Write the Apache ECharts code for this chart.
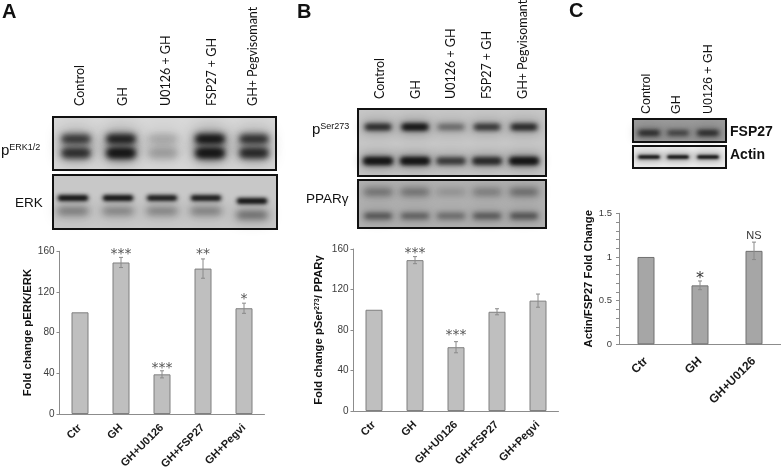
<!DOCTYPE html>
<html><head><meta charset="utf-8">
<style>html,body{margin:0;padding:0;background:#fff}#c{width:781px;height:467px}</style>
<script src="https://cdn.jsdelivr.net/npm/echarts@6/dist/echarts.min.js"></script>
</head><body><div id="c"></div>
<script>
// Chart data
var catsAB = ['Ctr','GH','GH+U0126','GH+FSP27','GH+Pegvi'];
var catsC = ['Ctr','GH','GH+U0126'];
var valuesA = [100,149,39,143,104];
var errorsA = [0,5,3.5,9.5,5];
var starsA = ['','***','***','**','*'];
var starYA = [0,157,45,157,113];
var valuesB = [100,149,63,98,109];
var errorsB = [0,3.5,5.5,3,6.5];
var starsB = ['','***','***','',''];
var starYB = [0,156,74.4,0,0];
var valuesC = [1,0.675,1.07];
var errorsC = [0,0.05,0.10];
var starsC = ['','*','NS'];
var starYC = [0,0.75,1.24];
var lanesABlotLabels = ['Control','GH','U0126 + GH','FSP27 + GH','GH+ Pegvisomant'];
var lanesCBlotLabels = ['Control','GH','U0126 + GH'];
// Blot band darkness by lane (0..1)
var perkUpper = [0.6,0.8,0.2,0.9,0.65];
var perkLower = [0.65,0.9,0.25,0.9,0.7];
var erkMain = [1,1,0.9,0.92,1];
var erkLow = [0.45,0.4,0.4,0.42,0.55];
var serUpper = [0.75,1,0.5,0.65,0.78];
var serLower = [1,1,0.6,0.75,1];
var pparUpper = [0.45,0.45,0.2,0.36,0.5];
var pparLower = [0.58,0.5,0.42,0.55,0.6];
var fspBand = [0.85,0.6,0.85];
var actinBand = [1,1,1];

var AXIS='#8c8c8c', TXT='#3c3c3c', SANS='"Liberation Sans",Arial,sans-serif';
var gr=[];
function rect(x,y,w,h,fill,z){gr.push({type:'rect',z:z||1,silent:true,shape:{x:x,y:y,width:w,height:h},style:{fill:fill}});}
function blurBand(cx,cy,w,h,alpha,blur){
  // a rectangle parked off-canvas casts only its soft shadow onto the blot
  gr.push({type:'rect',z:3,silent:true,shape:{x:cx-w/2-2000,y:cy-h/2,width:w,height:h,r:h/2},
    style:{fill:'#000',shadowColor:'rgba(15,15,15,'+alpha+')',shadowBlur:blur,shadowOffsetX:2000}});
}
function blot(box,bg,lanes,rows){
  rect(box[0],box[1],box[2]-box[0],box[3]-box[1],bg,2);
  rows.forEach(function(r){
    lanes.forEach(function(cx,i){
      var a=r.vals[i], y=r.y+(r.dy?r.dy[i]:0);
      if(r.haze)blurBand(cx,y,r.w+6,r.h+r.haze,a*0.3,r.blur*2.2);
      blurBand(cx,y,r.w,r.h,Math.min(1,a),r.blur);
      if(r.core&&a>0.5)blurBand(cx,y,r.w*0.9,r.h*0.7,a*0.85,r.blur*0.8);
    });
  });
  gr.push({type:'rect',z:5,silent:true,shape:{x:box[0],y:box[1],width:box[2]-box[0],height:box[3]-box[1]},
    style:{fill:'none',stroke:'#111',lineWidth:2}});
}
function vtext(x,y,t,font,size,color){
  gr.push({type:'text',z:6,silent:true,x:x,y:y,rotation:Math.PI/2,
    style:{x:0,y:0,text:t,font:size+'px '+font,fill:color||'#111',align:'left',verticalAlign:'middle'}});
}
function text(x,y,t,font,fill,rich){
  var s={x:0,y:0,text:t,font:font,fill:fill||'#111',align:'left',verticalAlign:'middle'};
  if(rich)s.rich=rich;
  gr.push({type:'text',z:6,silent:true,x:x,y:y,style:s});
}
// Panel A blots
blot([53,117,276,170],'#d8d8d8',[76,121,163,210,254],[
 {y:139,w:30,h:9,blur:7,vals:perkUpper,core:1,haze:14},{y:153,w:30,h:11,blur:7,vals:perkLower,core:1,haze:10}]);
blot([53,175,277,229],'#c8c8c8',[73,118,162,206,252],[
 {y:198,w:31,h:5,blur:4,vals:erkMain,core:1,dy:[0,0,0,0,3]},{y:211,w:31,h:7,blur:7,vals:erkLow,dy:[0,0,0,0,4],haze:6}]);
// Panel B blots
blot([358,109,546,176],'#c6c6c6',[378,415,451,487,524],[
 {y:127,w:27,h:6,blur:5,vals:serUpper,core:1,haze:8},{y:161,w:30,h:7,blur:5,vals:serLower,core:1,haze:8}]);
blot([358,180,546,228],'#b2b2b2',[378,415,451,487,524],[
 {y:192,w:28,h:6,blur:6,vals:pparUpper,haze:6},{y:216,w:28,h:6,blur:5,vals:pparLower,haze:6}]);
// Panel C blots
blot([633,119,726,142],'#9c9c9c',[649,678,708],[{y:133,w:22,h:4,blur:5,vals:fspBand,core:1,haze:8}]);
blot([633,146,726,168],'#ececec',[649,678,708],[{y:157,w:22,h:3,blur:3,vals:actinBand,core:1,haze:6}]);

// Lane labels
[80,123,166,212,253].forEach(function(x,i){vtext(x,106,lanesABlotLabels[i],'Lato,sans-serif',12.5);});
[380,416,451,487,523].forEach(function(x,i){vtext(x,99,lanesABlotLabels[i],'Lato,sans-serif',12.5);});
[647,677,709].forEach(function(x,i){vtext(x,114,lanesCBlotLabels[i],SANS,12.5);});
// Panel letters and blot names
text(2,12,'A','bold 20px '+SANS);
text(297,12,'B','bold 20px '+SANS);
text(569,11,'C','bold 20px '+SANS);
var supRich={a:{fontFamily:'Liberation Sans',fontSize:15,fill:'#111'},b:{fontFamily:'Liberation Sans',fontSize:9,fill:'#111',verticalAlign:'top',padding:[0,0,6,0]}};
text(1,151,'{a|p}{b|ERK1/2}','15px '+SANS,'#111',supRich);
text(312,130,'{a|p}{b|Ser273}','15px '+SANS,'#111',supRich);
text(15,203,'ERK','13.5px '+SANS);
text(306,199,'PPARγ','13.5px '+SANS);
text(730,132,'FSP27','bold 14px '+SANS);
text(730,155,'Actin','bold 14px '+SANS);

function grid(l,t,w,h){return {left:l,top:t,width:w,height:h,containLabel:false,outerBoundsMode:'none'};}
function xAxis(i,cats,size,margin){return {type:'category',gridIndex:i,data:cats,
  axisLine:{show:true,lineStyle:{color:AXIS,width:1}},axisTick:{show:false},
  axisLabel:{rotate:45,interval:0,margin:margin,color:'#1a1a1a',fontWeight:'bold',fontFamily:SANS,fontSize:size},
  splitLine:{show:false}};}
function yAxis(i,max,interval,name,gap,labelSize,labelMargin,minor,rich){var o={type:'value',gridIndex:i,min:0,max:max,interval:interval,
  name:name,nameLocation:'middle',nameGap:gap,nameRotate:90,nameMoveOverlap:false,
  nameTextStyle:{color:'#111',fontWeight:'bold',fontFamily:SANS,fontSize:11.3,rich:rich||{}},
  axisLine:{show:true,lineStyle:{color:AXIS}},axisTick:{show:true,length:3,lineStyle:{color:AXIS}},
  axisLabel:{color:TXT,fontFamily:SANS,fontSize:labelSize,margin:labelMargin},
  splitLine:{show:false}};
  if(minor)o.minorTick={show:true,splitNumber:5,length:3,lineStyle:{color:AXIS}};
  return o;}
function bar(i,vals,fill,border){return {type:'bar',xAxisIndex:i,yAxisIndex:i,data:vals,barWidth:17,
  itemStyle:{color:fill,borderColor:border,borderWidth:1},silent:true,animation:false};}
function errs(i,vals,er){return {type:'custom',xAxisIndex:i,yAxisIndex:i,z:4,silent:true,animation:false,
  data:vals.map(function(v,k){return [k,v,er[k]];}),
  renderItem:function(p,api){
    var k=api.value(0),v=api.value(1),e=api.value(2);
    if(!e)return null;
    var a=api.coord([k,v+e]),b=api.coord([k,v-e]),st={stroke:'#8a8a8a',lineWidth:1};
    return {type:'group',children:[
      {type:'line',shape:{x1:a[0],y1:a[1],x2:b[0],y2:b[1]},style:st},
      {type:'line',shape:{x1:a[0]-2,y1:a[1],x2:a[0]+2,y2:a[1]},style:st},
      {type:'line',shape:{x1:b[0]-2,y1:b[1],x2:b[0]+2,y2:b[1]},style:st}]};
  }};}
function marks(i,labels,ys){return {type:'custom',xAxisIndex:i,yAxisIndex:i,z:5,silent:true,animation:false,
  data:labels.map(function(s,k){return [k,ys[k],s];}),
  renderItem:function(p,api){
    var s=labels[p.dataIndex];
    if(!s)return null;
    var c=api.coord([api.value(0),api.value(1)]);
    var ns=s==='NS', big=i===2;
    return {type:'text',x:c[0],y:c[1],style:{text:s,fill:ns?'#333':(big?'#333':'#555'),
      font:(ns?'11px "Liberation Sans"':(big?'16px':'14px')+' "DejaVu Sans"'),align:'center',verticalAlign:'middle'}};
  }};}
var chart=echarts.init(document.getElementById('c'),null,{renderer:'canvas'});
chart.setOption({animation:false,backgroundColor:'#fff',graphic:gr,
  grid:[grid(59.5,251.3,205,162.7),grid(353.5,249,205,162),grid(619,213.3,162,131)],
  xAxis:[xAxis(0,catsAB,11,12),xAxis(1,catsAB,11,12),xAxis(2,catsC,12,15)],
  yAxis:[
    yAxis(0,160,40,'Fold change pERK/ERK',26,10,5),
    yAxis(1,160,40,'{m|Fold change pSer}{s|273}{m|/ PPARγ}',29,10,5,false,
      {m:{fontWeight:'bold',fontFamily:'Liberation Sans',fontSize:11.3,color:'#111'},
       s:{fontWeight:'bold',fontFamily:'Liberation Sans',fontSize:7,color:'#111',verticalAlign:'top'}}),
    yAxis(2,1.5,0.5,'Actin/FSP27 Fold Change',25,9.5,7,true)],
  series:[
    bar(0,valuesA,'#bfbfbf','#7f7f7f'),errs(0,valuesA,errorsA),marks(0,starsA,starYA),
    bar(1,valuesB,'#bfbfbf','#7f7f7f'),errs(1,valuesB,errorsB),marks(1,starsB,starYB),
    bar(2,valuesC,'#a6a6a6','#707070'),errs(2,valuesC,errorsC),marks(2,starsC,starYC)]
});
</script></body></html>
